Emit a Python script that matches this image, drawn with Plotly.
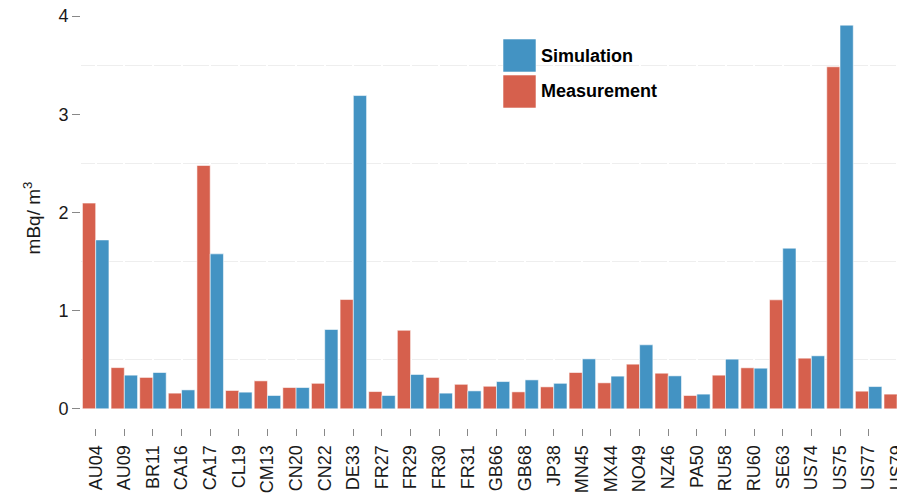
import plotly.graph_objects as go

stations = ["AU04", "AU09", "BR11", "CA16", "CA17", "CL19", "CM13", "CN20", "CN22", "DE33",
            "FR27", "FR29", "FR30", "FR31", "GB66", "GB68", "JP38", "MN45", "MX44", "NO49",
            "NZ46", "PA50", "RU58", "RU60", "SE63", "US74", "US75", "US77", "US79"]
measurement = [2.095, 0.42, 0.32, 0.16, 2.478, 0.187, 0.285, 0.217, 0.26, 1.113,
               0.176, 0.80, 0.32, 0.25, 0.23, 0.173, 0.224, 0.37, 0.265, 0.455,
               0.363, 0.136, 0.343, 0.418, 1.11, 0.516, 3.483, 0.18, 0.15]
simulation = [1.72, 0.343, 0.37, 0.193, 1.578, 0.17, 0.136, 0.217, 0.808, 3.19,
              0.136, 0.35, 0.16, 0.183, 0.278, 0.295, 0.26, 0.509, 0.333, 0.652,
              0.336, 0.15, 0.506, 0.414, 1.636, 0.54, 3.907, 0.227, 0.132]
y_ticks = [0, 1, 2, 3, 4]

RED = "#D6604D"
BLUE = "#4393C3"
FONT = "Liberation Sans, Arial, sans-serif"

# page body adds an 8px offset; figure coordinates are chosen accordingly
W, H = 905, 493
L, R, T, B = 73, 0, 0, 73
pw, ph = W - L - R, H - T - B

fig = go.Figure()
fig.add_trace(go.Bar(x=stations, y=measurement, name="Measurement", marker_color=RED,
                     marker_line=dict(color="rgba(255,255,255,0.8)", width=0.7), showlegend=False))
fig.add_trace(go.Bar(x=stations, y=simulation, name="Simulation", marker_color=BLUE,
                     marker_line=dict(color="rgba(255,255,255,0.8)", width=0.7), showlegend=False))

# grid dash pattern with small gaps at category centres
n = len(stations)
xr = [-0.513, 28.55]
step = pw / (xr[1] - xr[0])
first = (0 - xr[0]) * step - 1
parts = [f"{first:.2f}px", "2px"] + [f"{step - 2:.2f}px", "2px"] * n
griddash = ",".join(parts)

fig.update_layout(
    width=W, height=H,
    margin=dict(l=L, r=R, t=T, b=B, autoexpand=False),
    paper_bgcolor="white", plot_bgcolor="white",
    font=dict(family=FONT, size=18, color="#1a1a1a"),
    barmode="group", bargap=0.074, bargroupgap=0,
    xaxis=dict(range=xr, tickangle=-90, ticks="outside", ticklen=7, tickwidth=1,
               tickcolor="#888888", showgrid=False, zeroline=False, showline=False,
               automargin=False, ticklabeloverflow="allow",
               tickfont=dict(size=18, color="#1a1a1a"), ticklabelstandoff=2),
    yaxis=dict(range=[-0.195, 4.0815], tickvals=y_ticks, ticktext=[str(v) for v in y_ticks],
               ticks="outside", ticklen=8, tickwidth=1, tickcolor="#888888",
               showgrid=False, zeroline=False, showline=False, automargin=False,
               ticklabeloverflow="allow",
               minor=dict(tickvals=[0.5, 1.5, 2.5, 3.5], showgrid=True, gridcolor="#eeeeee",
                          gridwidth=1, griddash=griddash, ticks=""),
               tickfont=dict(size=18, color="#1a1a1a"), ticklabelstandoff=0,
               title=dict(text="mBq/ m<sup>3</sup>", font=dict(size=19, color="#1a1a1a"), standoff=12)),
)

def px2paper(x, y):
    # x, y given in screen pixels of the reference
    x, y = x - 8, y - 8
    return (x - L) / pw, (H - B - y) / ph

# custom legend
legend_items = [("Simulation", BLUE, 39, 72), ("Measurement", RED, 75, 108)]
for label, color, y0, y1 in legend_items:
    xa, ya = px2paper(503, y1)
    xb, yb = px2paper(536, y0)
    fig.add_shape(type="rect", xref="paper", yref="paper", x0=xa, x1=xb, y0=ya, y1=yb,
                  fillcolor=color, line=dict(color="rgba(255,255,255,0.8)", width=0.7))
    tx, ty = px2paper(539, (y0 + y1) / 2)
    fig.add_annotation(xref="paper", yref="paper", x=tx, y=ty, text=f"<b>{label}</b>",
                       showarrow=False, xanchor="left", yanchor="middle",
                       font=dict(size=18, color="#000000", family=FONT))

fig.write_html("out.html")
